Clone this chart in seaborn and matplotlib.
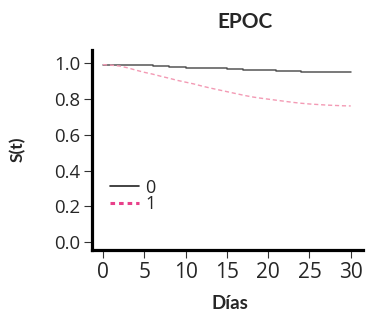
import numpy as np
import pandas as pd
import matplotlib
matplotlib.use("Agg")
import matplotlib.pyplot as plt
import seaborn as sns
from matplotlib.lines import Line2D

# curva grupo 0 (escalones)
dias_0 = [0, 4, 6, 8, 10, 13, 15, 17, 21, 24, 30]
surv_0 = [0.993, 0.989, 0.985, 0.980, 0.976, 0.972, 0.968, 0.964, 0.960, 0.954, 0.953]

# curva grupo 1
dias_1 = list(range(0, 31))
surv_1 = [0.993, 0.990, 0.985, 0.975, 0.962, 0.950, 0.940, 0.928, 0.917, 0.905,
          0.895, 0.885, 0.873, 0.862, 0.852, 0.842, 0.832, 0.822, 0.813, 0.806,
          0.800, 0.794, 0.788, 0.782, 0.777, 0.773, 0.770, 0.767, 0.765, 0.763, 0.762]

grupos = ["0", "1"]
x_ticks = [0, 5, 10, 15, 20, 25, 30]
y_ticks = [0.0, 0.2, 0.4, 0.6, 0.8, 1.0]

sns.set_style("ticks")
plt.rcParams["font.family"] = ["Open Sans", "DejaVu Sans"]

df0 = pd.DataFrame({"dias": dias_0, "s": surv_0, "grupo": grupos[0]})
df1 = pd.DataFrame({"dias": dias_1, "s": surv_1, "grupo": grupos[1]})

fig = plt.figure(figsize=(3.66, 3.12), dpi=100)
ax = fig.add_axes([0.25, 0.199, 0.741, 0.642])

sns.lineplot(data=df0, x="dias", y="s", ax=ax, color="#555555", lw=1.1,
             drawstyle="steps-post", legend=False)
sns.lineplot(data=df1, x="dias", y="s", ax=ax, color="#f39ab4", lw=1.0,
             linestyle=(0, (3, 2)), legend=False)

ax.set_xlim(-1.39, 31.45)
ax.set_ylim(-0.043, 1.077)
ax.set_xticks(x_ticks)
ax.set_yticks(y_ticks)
ax.set_yticklabels([f"{v:.1f}" for v in y_ticks])
ax.tick_params(axis="y", labelsize=13.4, width=0.8, length=6, color="#333333", pad=2)
ax.tick_params(axis="x", labelsize=15, width=0.8, length=6, color="#333333", pad=3)
for side in ["top", "right"]:
    ax.spines[side].set_visible(False)
for side in ["left", "bottom"]:
    ax.spines[side].set_linewidth(2.3)
    ax.spines[side].set_color("black")

ax.set_xlabel("")
ax.set_ylabel("")
fig.text(0.048, 0.522, "S(t)", rotation=90, ha="center", va="center",
         fontsize=12.5, fontweight="bold", family=["Lato", "DejaVu Sans"])
fig.text(0.628, 0.026, "Días", ha="center", va="center",
         fontsize=13.5, fontweight="bold", family=["Lato", "DejaVu Sans"])
fig.text(0.669, 0.929, "EPOC", ha="center", va="center",
         fontsize=15, fontweight="bold", family=["Lato", "DejaVu Sans"])

handles = [Line2D([], [], color="#222222", lw=1.2),
           Line2D([], [], color="#e8408a", lw=2.2, linestyle=(0, (1.5, 1.3)))]
ax.legend(handles, grupos, loc="upper left", bbox_to_anchor=(0.035, 0.40),
          frameon=False, fontsize=13, handlelength=1.6, handletextpad=0.35,
          labelspacing=-0.1, borderpad=0)

fig.savefig("out.png", dpi=100)
